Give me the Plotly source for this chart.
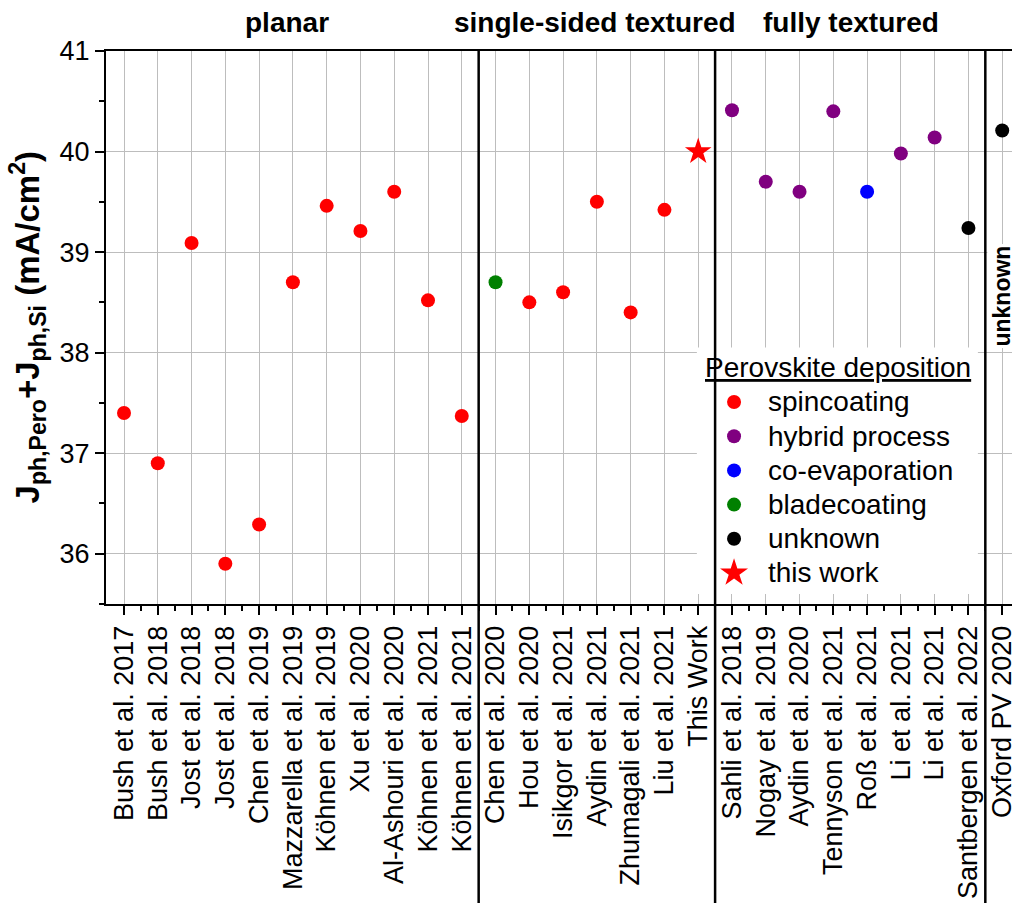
import plotly.graph_objects as go

# Publications and the summed photocurrent density J_ph,Pero + J_ph,Si (mA/cm²)
labels = [
    "Bush et al. 2017", "Bush et al. 2018", "Jost et al. 2018", "Jost et al. 2018",
    "Chen et al. 2019", "Mazzarella et al. 2019", "Köhnen et al. 2019", "Xu et al. 2020",
    "Al-Ashouri et al. 2020", "Köhnen et al. 2021", "Köhnen et al. 2021",
    "Chen et al. 2020", "Hou et al. 2020", "Isikgor et al. 2021", "Aydin et al. 2021",
    "Zhumagali et al. 2021", "Liu et al. 2021", "This Work",
    "Sahli et al. 2018", "Nogay et al. 2019", "Aydin et al. 2020", "Tennyson et al. 2021",
    "Roß et al. 2021", "Li et al. 2021", "Li et al. 2021", "Santbergen et al. 2022",
    "Oxford PV 2020",
]
jph_sum = [
    37.40, 36.90, 39.09, 35.90, 36.29, 38.70, 39.46, 39.21, 39.60, 38.52, 37.37,
    38.70, 38.50, 38.60, 39.50, 38.40, 39.42, 40.00,
    40.41, 39.70, 39.60, 40.40, 39.60, 39.98, 40.14, 39.24,
    40.21,
]
deposition = (
    ["spincoating"] * 11
    + ["bladecoating"] + ["spincoating"] * 5 + ["this work"]
    + ["hybrid process"] * 4 + ["co-evaporation"] + ["hybrid process"] * 2 + ["unknown"]
    + ["unknown"]
)

# Deposition methods in legend order
methods = ["spincoating", "hybrid process", "co-evaporation", "bladecoating", "unknown", "this work"]
method_colors = ["#ff0000", "#800080", "#0000ff", "#008000", "#000000", "#ff0000"]
method_symbols = ["circle", "circle", "circle", "circle", "circle", "star"]

# Sections of the x axis
sections = ["planar", "single-sided textured", "fully textured"]
section_centers = [4.83, 13.94, 21.52]
section_breaks = [10.5, 17.5, 25.5]

FONT = "Liberation Sans, Arial, sans-serif"
GRID = "#bdbdbd"

x_idx = list(range(len(labels)))
color_of = dict(zip(methods, method_colors))
symbol_of = dict(zip(methods, method_symbols))
size_of = {m: (20 if s == "star" else 14) for m, s in zip(methods, method_symbols)}

fig = go.Figure()

fig.add_trace(go.Scatter(
    x=x_idx, y=jph_sum, mode="markers",
    marker=dict(
        color=[color_of[d] for d in deposition],
        symbol=[symbol_of[d] for d in deposition],
        size=[size_of[d] for d in deposition],
        opacity=1,
        line=dict(width=0),
    ),
    text=labels, hovertemplate="%{text}: %{y:.2f}<extra></extra>",
    showlegend=False,
))

# Section separators running through the plot and the label area
shapes = []
for xb in section_breaks:
    shapes.append(dict(type="line", xref="x", yref="paper", x0=xb, x1=xb,
                       y0=-0.56, y1=1, line=dict(color="black", width=2.5)))

# Legend box (white panel above the grid)
shapes.append(dict(type="rect", xref="x", yref="y", x0=16.96, x1=25.28,
                   y0=35.60, y1=38.05, layer="between",
                   fillcolor="white", line=dict(width=0)))

# Legend symbols, drawn on an overlay axis spanning the plot area [0, 1]
leg_marker_x = 0.6932
leg_text_x = 0.7285
leg_first_y = 0.3653
leg_step = 0.06184
leg_y = [leg_first_y - i * leg_step for i in range(len(methods))]

fig.add_trace(go.Scatter(
    x=[leg_marker_x] * len(methods), y=leg_y, mode="markers",
    xaxis="x2", yaxis="y2",
    marker=dict(color=method_colors, symbol=method_symbols,
                size=[21 if s == "star" else 14 for s in method_symbols],
                opacity=1, line=dict(width=0)),
    hoverinfo="skip", showlegend=False,
))

annotations = []
for name, yy in zip(methods, leg_y):
    annotations.append(dict(xref="paper", yref="paper", x=leg_text_x, y=yy,
                            text=name, showarrow=False, xanchor="left", yanchor="middle",
                            font=dict(family=FONT, size=28, color="black")))
annotations.append(dict(xref="paper", yref="paper", x=0.6589, y=0.4280,
                        text="<u>Perovskite deposition</u>", showarrow=False,
                        xanchor="left", yanchor="middle",
                        font=dict(family=FONT, size=28, color="black")))

# Section titles above the plot
for name, xc in zip(sections, section_centers):
    annotations.append(dict(xref="x", yref="paper", x=xc, y=1.052, text=f"<b>{name}</b>",
                            showarrow=False, xanchor="center", yanchor="middle",
                            font=dict(family=FONT, size=28, color="black")))

# Label of the last (unknown) section
annotations.append(dict(xref="x", yref="y", x=26.0, y=38.56, text="<b>unknown</b>",
                        textangle=-90, showarrow=False, xanchor="center", yanchor="middle",
                        bgcolor="white",
                        font=dict(family=FONT, size=23, color="black")))

# Y axis title
annotations.append(dict(xref="paper", yref="paper", x=-0.0862, y=0.5,
                        text="<b>J<sub>ph,Pero</sub>+J<sub>ph,Si</sub> (mA/cm<sup>2</sup>)</b>",
                        textangle=-90, showarrow=False, xanchor="center", yanchor="middle",
                        font=dict(family=FONT, size=33, color="black")))

fig.update_layout(
    width=1012, height=903,
    margin=dict(l=106, r=0, t=51, b=299, autoexpand=False),
    paper_bgcolor="white", plot_bgcolor="white",
    font=dict(family=FONT, color="black"),
    shapes=shapes, annotations=annotations,
    showlegend=False,
    xaxis=dict(
        range=[-0.533, 26.29], automargin=False,
        tickmode="array", tickvals=x_idx, ticktext=labels, tickangle=-90,
        tickfont=dict(family=FONT, size=27, color="black"),
        ticklabeloverflow="allow",
        ticks="outside", ticklen=9, tickwidth=2, tickcolor="black",
        showline=True, linewidth=2, linecolor="black", mirror=True,
        showgrid=True, gridcolor=GRID, gridwidth=1, zeroline=False,
        minor=dict(tickvals=[i + 0.5 for i in x_idx[:-1]], ticks="outside",
                   ticklen=5, tickwidth=1.5, tickcolor="black", showgrid=False),
    ),
    yaxis=dict(
        range=[35.5, 41], tickmode="linear", tick0=36, dtick=1, automargin=False,
        tickfont=dict(family=FONT, size=27, color="black"),
        ticks="outside", ticklen=9, tickwidth=2, tickcolor="black",
        showline=True, linewidth=2, linecolor="black", mirror=False,
        showgrid=True, gridcolor=GRID, gridwidth=1, zeroline=False,
        minor=dict(tick0=35.5, dtick=0.5, ticks="outside", ticklen=5,
                   tickwidth=1.5, tickcolor="black", showgrid=False),
    ),
    xaxis2=dict(overlaying="x", anchor="y2", range=[0, 1], visible=False),
    yaxis2=dict(overlaying="y", anchor="x2", range=[0, 1], visible=False),
)

fig.write_html("out.html")
